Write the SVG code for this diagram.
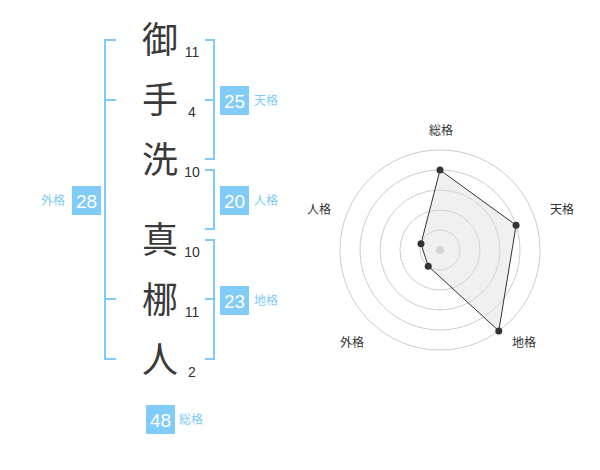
<svg xmlns="http://www.w3.org/2000/svg" width="600" height="470" viewBox="0 0 600 470">
<style>
.k{font-family:"Noto Sans CJK JP","Noto Sans CJK SC",sans-serif;font-size:36px;fill:#3a3a3a;text-anchor:middle}
.n{font-family:"Liberation Sans",Arial,sans-serif;font-size:14px;fill:#333;text-anchor:middle}
.br{fill:none;stroke:#80cbf7;stroke-width:2}
.box{fill:#80cbf7}
.bt{font-family:"Liberation Sans",Arial,sans-serif;font-size:19px;fill:#fff;text-anchor:middle}
.lb{font-family:"Noto Sans CJK JP","Noto Sans CJK SC",sans-serif;font-size:12px;fill:#80cbf7}
.rl{font-family:"Noto Sans CJK JP","Noto Sans CJK SC",sans-serif;font-size:12px;fill:#333;text-anchor:middle}
.ring{fill:none;stroke:#cccccc;stroke-width:1}
.dot{fill:#333}
</style>
<rect width="600" height="470" fill="#fff"/>
<g id="chars">
<text class="k" x="160" y="53">御</text>
<text class="k" x="160" y="113">手</text>
<text class="k" x="160" y="173">洗</text>
<text class="k" x="160" y="253">真</text>
<text class="k" x="160" y="313">梛</text>
<text class="k" x="160" y="373">人</text>
</g>
<g id="strokes">
<text class="n" x="192" y="57">11</text>
<text class="n" x="192" y="117">4</text>
<text class="n" x="192" y="177">10</text>
<text class="n" x="192" y="257">10</text>
<text class="n" x="192" y="317">11</text>
<text class="n" x="192" y="377">2</text>
</g>
<g id="connectors">
<path class="br" d="M116,40 H105 V359 H116 M105,100 H116 M105,299 H116"/>
<path class="br" d="M205,40 H214 V159 H205 M205,100 H214"/>
<path class="br" d="M205,170 H214 V229 H205"/>
<path class="br" d="M205,240 H214 V359 H205 M205,299 H214"/>
</g>
<g id="tenkaku">
<rect class="box" x="220" y="86" width="29" height="29"/>
<text class="bt" x="234.5" y="107.5">25</text>
<text class="lb" x="254" y="105">天格</text>
</g>
<g id="jinkaku">
<rect class="box" x="220" y="186" width="29" height="29"/>
<text class="bt" x="234.5" y="207.5">20</text>
<text class="lb" x="254" y="205">人格</text>
</g>
<g id="chikaku">
<rect class="box" x="220" y="286" width="29" height="29"/>
<text class="bt" x="234.5" y="307.5">23</text>
<text class="lb" x="254" y="305">地格</text>
</g>
<g id="gaikaku">
<rect class="box" x="72" y="186" width="29" height="29"/>
<text class="bt" x="86.5" y="207.5">28</text>
<text class="lb" x="41" y="205">外格</text>
</g>
<g id="soukaku">
<rect class="box" x="146" y="405" width="29" height="29"/>
<text class="bt" x="160.5" y="426.5">48</text>
<text class="lb" x="179" y="424">総格</text>
</g>
<g id="radar">
<circle class="ring" cx="440" cy="250" r="20"/>
<circle class="ring" cx="440" cy="250" r="40"/>
<circle class="ring" cx="440" cy="250" r="60"/>
<circle class="ring" cx="440" cy="250" r="80"/>
<circle class="ring" cx="440" cy="250" r="100"/>
<circle cx="440" cy="250" r="4" fill="#cccccc"/>
<polygon points="440,170 516.08,225.28 498.78,330.9 428.24,266.18 420.98,243.82" fill="#dddddd" fill-opacity="0.45" stroke="#333" stroke-width="1"/>
<circle class="dot" cx="440" cy="170" r="3.5"/>
<circle class="dot" cx="516.08" cy="225.28" r="3.5"/>
<circle class="dot" cx="498.78" cy="330.9" r="3.5"/>
<circle class="dot" cx="428.24" cy="266.18" r="3.5"/>
<circle class="dot" cx="420.98" cy="243.82" r="3.5"/>
<text class="rl" x="441" y="135">総格</text>
<text class="rl" x="562" y="214">天格</text>
<text class="rl" x="524" y="347">地格</text>
<text class="rl" x="352" y="347">外格</text>
<text class="rl" x="319" y="214">人格</text>
</g>
</svg>
